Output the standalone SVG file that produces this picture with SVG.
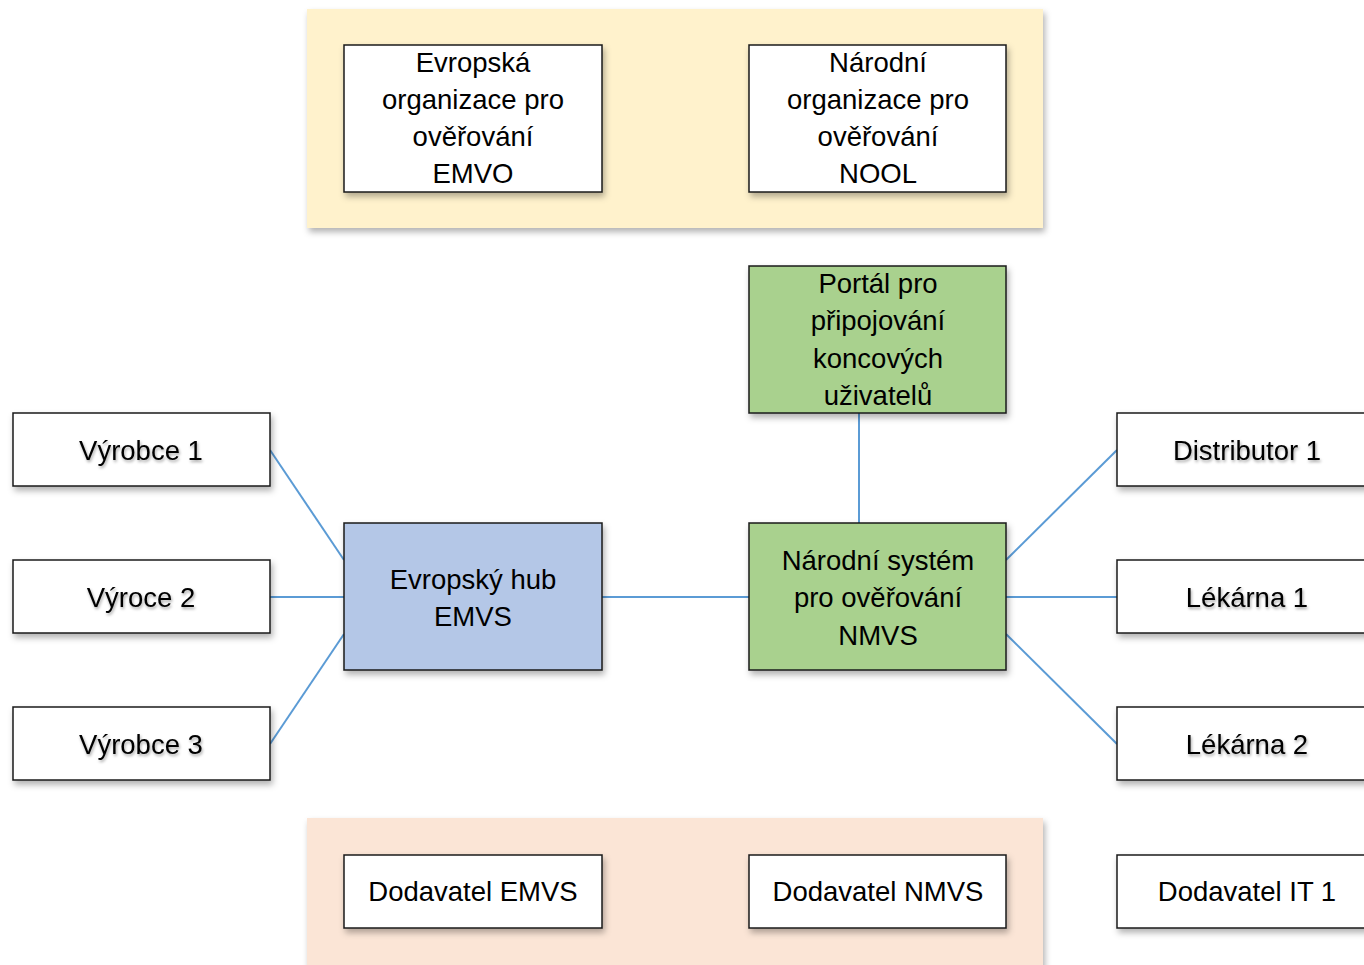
<svg xmlns="http://www.w3.org/2000/svg" width="1364" height="965" viewBox="0 0 1364 965">
<defs>
<filter id="sh" x="-10%" y="-10%" width="130%" height="140%">
<feDropShadow dx="2" dy="4" stdDeviation="3" flood-color="#000" flood-opacity="0.3"/>
</filter>
<filter id="tsh" x="-10%" y="-30%" width="130%" height="170%">
<feDropShadow dx="1" dy="2" stdDeviation="1.5" flood-color="#000" flood-opacity="0.35"/>
</filter>
<style>
.panel{filter:url(#sh)}
.box{stroke:#1a1a1a;stroke-width:1.5;filter:url(#sh)}
.w{fill:#ffffff}
.g{fill:#A9D18E}
.b{fill:#B4C7E7}
text{font-family:"Liberation Sans",Arial,sans-serif;font-size:27.5px;fill:#000;text-anchor:middle}
.ts{filter:url(#tsh)}
.c line{stroke:#5B9BD5;stroke-width:2}
</style>
</defs>
<rect width="1364" height="965" fill="#ffffff"/>
<g id="panel-top"><rect class="panel" x="307" y="9" width="736" height="219" fill="#FFF2CC"/></g>
<g id="panel-bottom"><rect class="panel" x="307" y="818" width="736" height="160" fill="#FBE5D6"/></g>
<g class="c" id="connectors">
<line x1="270" y1="450" x2="344" y2="560"/>
<line x1="270" y1="597" x2="344" y2="597"/>
<line x1="270" y1="744" x2="344" y2="634"/>
<line x1="602" y1="597" x2="749" y2="597"/>
<line x1="859" y1="413" x2="859" y2="523"/>
<line x1="1006" y1="560" x2="1117" y2="450"/>
<line x1="1006" y1="597" x2="1117" y2="597"/>
<line x1="1006" y1="634" x2="1117" y2="744"/>
</g>
<g id="emvo"><rect class="box w" x="344" y="45" width="258" height="147"/>
<text x="473" y="72">Evropská</text><text x="473" y="109">organizace pro</text><text x="473" y="146">ověřování</text><text x="473" y="183">EMVO</text></g>
<g id="nool"><rect class="box w" x="749" y="45" width="257" height="147"/>
<text x="878" y="72">Národní</text><text x="878" y="109">organizace pro</text><text x="878" y="146">ověřování</text><text x="878" y="183">NOOL</text></g>
<g id="portal"><rect class="box g" x="749" y="266" width="257" height="147"/>
<text x="878" y="293">Portál pro</text><text x="878" y="330">připojování</text><text x="878" y="368">koncových</text><text x="878" y="405">uživatelů</text></g>
<g id="vyrobce1"><rect class="box w" x="13" y="413" width="257" height="73"/><text class="ts" x="141" y="460">Výrobce 1</text></g>
<g id="vyroce2"><rect class="box w" x="13" y="560" width="257" height="73"/><text class="ts" x="141" y="607">Výroce 2</text></g>
<g id="vyrobce3"><rect class="box w" x="13" y="707" width="257" height="73"/><text class="ts" x="141" y="754">Výrobce 3</text></g>
<g id="emvs"><rect class="box b" x="344" y="523" width="258" height="147"/>
<text x="473" y="589">Evropský hub</text><text x="473" y="626">EMVS</text></g>
<g id="nmvs"><rect class="box g" x="749" y="523" width="257" height="147"/>
<text x="878" y="570">Národní systém</text><text x="878" y="607">pro ověřování</text><text x="878" y="645">NMVS</text></g>
<g id="distributor1"><rect class="box w" x="1117" y="413" width="258" height="73"/><text class="ts" x="1247" y="460">Distributor 1</text></g>
<g id="lekarna1"><rect class="box w" x="1117" y="560" width="258" height="73"/><text class="ts" x="1247" y="607">Lékárna 1</text></g>
<g id="lekarna2"><rect class="box w" x="1117" y="707" width="258" height="73"/><text class="ts" x="1247" y="754">Lékárna 2</text></g>
<g id="dod-emvs"><rect class="box w" x="344" y="855" width="258" height="73"/><text x="473" y="901">Dodavatel EMVS</text></g>
<g id="dod-nmvs"><rect class="box w" x="749" y="855" width="257" height="73"/><text x="878" y="901">Dodavatel NMVS</text></g>
<g id="dod-it1"><rect class="box w" x="1117" y="855" width="258" height="73"/><text x="1247" y="901">Dodavatel IT 1</text></g>
</svg>
